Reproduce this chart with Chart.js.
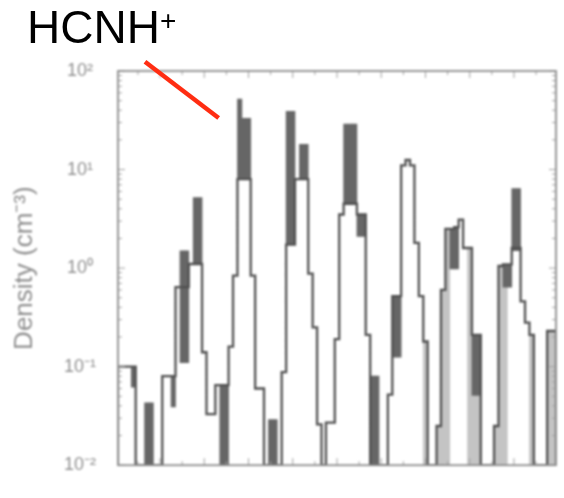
<!DOCTYPE html>
<html>
<head>
<meta charset="utf-8">
<title>HCNH+ ion density</title>
<script src="https://cdn.jsdelivr.net/npm/chart.js@4.4.1/dist/chart.umd.min.js"></script>
<style>
  html, body { margin: 0; padding: 0; background: #fff; }
  #stage { position: relative; width: 564px; height: 498px; overflow: hidden; }
  #plot { position: absolute; left: 0; top: 0; filter: blur(0.9px); }
  #marker { position: absolute; left: 0; top: 0; pointer-events: none; }
  #ion { position: absolute; left: 27px; top: 4px; font: 46px/46px "Liberation Sans", Arial, sans-serif; color: #000; white-space: nowrap; }
  #ion span { font-size: 28px; position: relative; top: -13px; }
</style>
</head>
<body>
<div id="stage">
  <canvas id="plot" width="564" height="498"></canvas>
  <canvas id="marker" width="564" height="498"></canvas>
  <div id="ion">HCNH<span>+</span></div>
</div>
<script>
// Mass bins (amu) and the histogram outline density (cm^-3) in each bin
const masses = [
  1, 2, 3, 4, 5, 6, 7, 8, 9, 10,
  11, 12, 13, 14, 15, 16, 17, 18, 19, 20,
  21, 22, 23, 24, 25, 26, 27, 28, 29, 30,
  31, 32, 33, 34, 35, 36, 37, 38, 39, 40,
  41, 42, 43, 44, 45, 46, 47, 48, 49, 50,
  51, 52, 53, 54, 55, 56, 57, 58, 59, 60,
  61, 62, 63, 64, 65, 66, 67, 68, 69, 70,
  71, 72, 73, 74, 75, 76, 77, 78, 79, 80,
  81, 82, 83, 84, 85, 86, 87, 88, 89, 90,
  91, 92, 93, 94, 95, 96, 97, 98, 99
];
const outline = [
  0.1, 0.1, 0.1, 0.1, 0.01, 0.01, 0.01, 0.01, 0.01, 0.01,
  0.08, 0.08, 0.08, 0.64, 0.64, 0.64, 1.1, 1.1, 1.1, 0.14,
  0.033, 0.033, 0.065, 0.065, 0.065, 0.16, 0.84, 8, 8, 8,
  0.84, 0.06, 0.06, 0.01, 0.01, 0.01, 0.01, 0.088, 1.73, 1.73,
  8, 8, 8, 0.88, 0.25, 0.026, 0.01, 0.027, 0.027, 0.19,
  3.5, 4.5, 4.5, 4.5, 3.5, 3.5, 0.21, 0.01, 0.01, 0.01,
  0.01, 0.052, 0.52, 0.52, 11, 12.5, 11, 1.8, 0.52, 0.18,
  0.01, 0.01, 0.025, 0.6, 2.5, 2.5, 2.6, 3.1, 1.6, 1.6,
  0.21, 0.21, 0.01, 0.01, 0.01, 0.025, 1.05, 1.09, 1.09, 1.6,
  1.6, 0.46, 0.28, 0.21, 0.01, 0.01, 0.01, 0.23, 0.23
];

// Dark bands: spread between the low and high estimates
const darkMass = [4, 7, 8, 13, 15, 16, 18, 19, 24, 25, 28, 29, 30, 35, 36, 39, 40, 42, 43,
                  52, 53, 54, 55, 56, 58, 59, 63, 64, 76, 77, 81, 82, 88, 89, 90, 91];
const darkLow  = [0.062, 0.01, 0.01, 0.039, 0.11, 0.11, 1.1, 1.1, 0.01, 0.01, 8, 8, 8, 0.01, 0.01, 1.73, 1.73, 8, 8,
                  4.5, 4.5, 4.5, 2.1, 2.1, 0.01, 0.01, 0.125, 0.125, 0.98, 0.98, 0.051, 0.051, 0.64, 0.64, 1.5, 1.5];
const darkHigh = [0.1, 0.043, 0.043, 0.08, 1.5, 1.5, 5.2, 5.2, 0.065, 0.065, 52, 33, 33, 0.029, 0.029, 39, 39, 18, 18,
                  29, 29, 29, 3.5, 3.5, 0.08, 0.08, 0.52, 0.52, 2.5, 2.6, 0.21, 0.21, 1.09, 1.09, 6.4, 6.4];

// Light bands in the heavier mass groups
const lightMass = [70, 73, 74, 75, 80, 81, 82, 86, 87, 88, 94, 98, 99];
const lightLow  = [0.01, 0.01, 0.01, 0.01, 0.01, 0.01, 0.01, 0.01, 0.01, 0.01, 0.01, 0.01, 0.01];
const lightHigh = [0.18, 0.025, 0.6, 2.5, 1.6, 0.051, 0.051, 0.025, 1.05, 0.64, 0.21, 0.23, 0.23];

// Axis ticks
const yTickValues = [0.01, 0.1, 1, 10, 100];
const yTickLabels = ['10\u207B\u00B2', '10\u207B\u00B9', '10\u2070', '10\u00B9', '10\u00B2'];
const yMinorFactors = [2, 3, 4, 5, 6, 7, 8, 9];
const xTickValues = [5, 10, 15, 20, 25, 30, 35, 40, 45, 50, 55, 60, 65, 70, 75, 80, 85, 90, 95];

// Pointer from the label to the HCNH+ peak, in data units (mass, density)
const pointerFrom = [6.6, 124];
const pointerTo = [23.25, 33.4];

// Step outline: each bin value holds from its left edge to the next
const stepPoints = [{ x: masses[0] - 0.5, y: 0.01 }];
masses.forEach((m, i) => stepPoints.push({ x: m - 0.5, y: outline[i] }));
const lastMass = masses[masses.length - 1];
stepPoints.push({ x: lastMass + 0.5, y: outline[outline.length - 1] });
stepPoints.push({ x: lastMass + 0.5, y: 0.01 });

const darkBars = darkMass.map((m, i) => ({ x: m, y: [darkLow[i], darkHigh[i]] }));
const lightBars = lightMass.map((m, i) => ({ x: m, y: [lightLow[i], lightHigh[i]] }));

const frameTicks = {
  id: 'frameTicks',
  afterDatasetsDraw(chart) {
    const { ctx, chartArea: a, scales: { x, y } } = chart;
    ctx.save();
    ctx.strokeStyle = '#a0a0a0';
    ctx.lineWidth = 1;
    ctx.beginPath();
    yTickValues.forEach((d, i) => {
      const py = y.getPixelForValue(d);
      ctx.moveTo(a.left, py); ctx.lineTo(a.left + 7, py);
      ctx.moveTo(a.right, py); ctx.lineTo(a.right - 7, py);
      if (i < yTickValues.length - 1) {
        yMinorFactors.forEach(f => {
          const pm = y.getPixelForValue(d * f);
          ctx.moveTo(a.left, pm); ctx.lineTo(a.left + 4, pm);
          ctx.moveTo(a.right, pm); ctx.lineTo(a.right - 4, pm);
        });
      }
    });
    xTickValues.forEach(v => {
      const px = x.getPixelForValue(v);
      const len = v % 10 === 0 ? 7 : 4;
      ctx.moveTo(px, a.top); ctx.lineTo(px, a.top + len);
      ctx.moveTo(px, a.bottom); ctx.lineTo(px, a.bottom - len);
    });
    ctx.stroke();
    ctx.lineWidth = 1.8;
    ctx.strokeStyle = '#8c8c8c';
    ctx.strokeRect(a.left, a.top, a.right - a.left, a.bottom - a.top);
    ctx.restore();
  }
};

const pointer = {
  id: 'pointer',
  afterDraw(chart) {
    const { x, y } = chart.scales;
    const c = document.getElementById('marker').getContext('2d');
    c.clearRect(0, 0, 564, 498);
    c.strokeStyle = '#ff2d12';
    c.lineWidth = 4.5;
    c.beginPath();
    c.moveTo(x.getPixelForValue(pointerFrom[0]), y.getPixelForValue(pointerFrom[1]));
    c.lineTo(x.getPixelForValue(pointerTo[0]), y.getPixelForValue(pointerTo[1]));
    c.stroke();
  }
};

new Chart(document.getElementById('plot'), {
  type: 'bar',
  data: {
    datasets: [
      {
        type: 'line',
        data: stepPoints,
        stepped: 'before',
        borderColor: '#505050',
        borderWidth: 2.3,
        pointRadius: 0,
        fill: false,
        order: 0
      },
      {
        type: 'bar',
        data: darkBars,
        backgroundColor: '#666666',
        borderWidth: 0,
        grouped: false,
        barPercentage: 1,
        categoryPercentage: 1,
        order: 1
      },
      {
        type: 'bar',
        data: lightBars,
        backgroundColor: '#c4c4c4',
        borderWidth: 0,
        grouped: false,
        barPercentage: 1,
        categoryPercentage: 1,
        order: 2
      }
    ]
  },
  options: {
    responsive: false,
    animation: false,
    devicePixelRatio: 1,
    layout: { padding: { top: 71, right: 8, bottom: 5, left: 0 } },
    plugins: { legend: { display: false }, tooltip: { enabled: false } },
    scales: {
      x: {
        type: 'linear',
        min: masses[0] - 0.5,
        max: lastMass + 0.5,
        offset: false,
        display: false
      },
      y: {
        type: 'logarithmic',
        min: yTickValues[0],
        max: yTickValues[yTickValues.length - 1],
        afterBuildTicks: s => { s.ticks = yTickValues.map(v => ({ value: v })); },
        afterFit: s => { s.width = 118; },
        grid: { display: false, drawTicks: false },
        border: { display: false },
        ticks: {
          autoSkip: false,
          crossAlign: 'center',
          padding: 22,
          color: '#8f8f8f',
          font: { family: 'Liberation Sans', size: 18 },
          callback: (v, i) => yTickLabels[i]
        },
        title: {
          display: true,
          text: 'Density (cm\u207B\u00B3)',
          color: '#8f8f8f',
          font: { family: 'Liberation Sans', size: 26 },
          padding: { top: 9, bottom: 0 }
        }
      }
    }
  },
  plugins: [frameTicks, pointer]
});
</script>
</body>
</html>
